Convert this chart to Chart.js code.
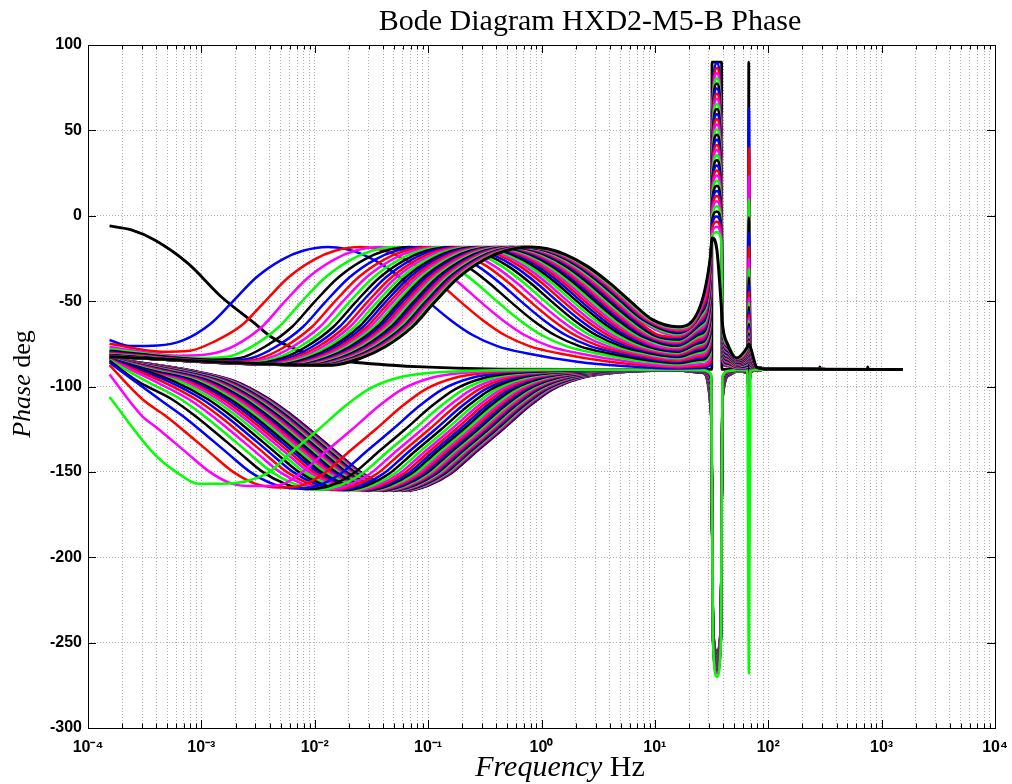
<!DOCTYPE html>
<html>
<head>
<meta charset="utf-8">
<script src="https://cdn.jsdelivr.net/npm/chart.js@4.4.1/dist/chart.umd.min.js"></script>
<style>
html,body{margin:0;padding:0;background:#ffffff;}
#wrap{width:1012px;height:784px;position:relative;}
</style>
</head>
<body>
<div id="wrap"><canvas id="c" width="1012" height="784"></canvas></div>
<script>
// ---------------- text ----------------
const titleText = 'Bode Diagram HXD2-M5-B Phase';
const xTitleItalic = 'Frequency';
const xTitleRoman = ' Hz';
const yTitleItalic = 'Phase';
const yTitleRoman = ' deg';

// ---------------- axes ----------------
const xMajorExponents = [-4, -3, -2, -1, 0, 1, 2, 3, 4];
const xMinorMultipliers = [2, 3, 4, 5, 6, 7, 8, 9];
const yTickValues = [100, 50, 0, -50, -100, -150, -200, -250, -300];

// ---------------- colours ----------------
const upperColors = ['#0000ff', '#ff0000', '#ff00ff', '#00ff00', '#000000'];
const lowerColors = ['#00ff00', '#ff00ff', '#ff0000', '#0000ff', '#000000'];

// frequency span of every trace (log10 Hz)
const startLogF = -3.81;
const endLogF = 3.187;

// ---------------- lone black trace (log10 Hz / deg) ----------------
const soloLogF = [-3.81, -3.618, -3.412, -3.118, -2.825, -2.53, -2.384, -1.983, -1.69, -1.101, -0.367, 0.5, 1.502, 1.504, 1.589, 1.591, 1.826, 1.828, 1.83, 2.45, 2.455, 2.46, 2.873, 2.878, 2.883, 3.187];
const soloDeg = [-6, -8.3, -14.2, -27.9, -47.4, -63, -71, -82.5, -85.5, -88.4, -89.8, -90, -90, 90, 90, -90, -90, 90, -90, -90, -88.5, -90, -90, -88.5, -90, -90];

// ---------------- upper family (phase-lead humps) ----------------
// centre of each hump, log10 Hz (read from the -50 deg crossings)
const upperCenterLog = [-1.884, -1.601, -1.425, -1.275, -1.160, -1.063, -0.984, -0.914, -0.852, -0.795, -0.742, -0.693, -0.649, -0.608, -0.569, -0.533, -0.499, -0.467, -0.437, -0.409, -0.383, -0.357, -0.332, -0.309, -0.286, -0.264, -0.243, -0.221, -0.201, -0.181, -0.168, -0.151, -0.133, -0.116, -0.098];
const upperStartDeg = [-72.8, -75, -76.8, -78, -79, -79.8, -80.4, -80.9, -81.3, -81.6, -81.9, -82.1, -82.2, -82.3, -82.4, -82.5, -82.5, -82.6, -82.6, -82.6, -82.6, -82.6, -82.6, -82.6, -82.6, -82.6, -82.6, -82.6, -82.6, -82.6, -82.6, -82.6, -82.6, -82.6, -82.6];
const upperMinDeg = [-76.3, -79.6, -82, -83.3, -84.3, -85, -85.5, -85.9, -86.2, -86.4, -86.6, -86.8, -86.9, -87, -87.1, -87.2, -87.2, -87.3, -87.3, -87.4, -87.4, -87.4, -87.5, -87.5, -87.5, -87.5, -87.5, -87.5, -87.5, -87.5, -87.5, -87.5, -87.5, -87.5, -87.5];
const upperMinOffset = -1.75;
// early part of the rise, per trace, at these offsets from the centre (decades)
const upperRampOffset = [-1.5, -1.28, -1.04];
const upperRamp = [
  [-76, -73, -63.5], [-79, -73.5, -64], [-81, -76, -65], [-82.6, -76.6, -65], [-83.3, -76.7, -65],
  [-83.5, -76.7, -65], [-83.5, -76.7, -65], [-83.5, -76.7, -65], [-83.5, -76.7, -65], [-83.5, -76.7, -65],
  [-83.5, -76.7, -65], [-83.5, -76.7, -65], [-83.5, -76.7, -65], [-83.5, -76.7, -65], [-83.5, -76.7, -65],
  [-83.5, -76.7, -65], [-83.5, -76.7, -65], [-83.5, -76.7, -65], [-83.5, -76.7, -65], [-83.5, -76.7, -65],
  [-83.5, -76.7, -65], [-83.5, -76.7, -65], [-83.5, -76.7, -65], [-83.5, -76.7, -65], [-83.5, -76.7, -65],
  [-83.5, -76.7, -65], [-83.5, -76.7, -65], [-83.5, -76.7, -65], [-83.5, -76.7, -65], [-83.5, -76.7, -65],
  [-83.5, -76.7, -65], [-83.5, -76.7, -65], [-83.5, -76.7, -65], [-83.5, -76.7, -65], [-83.5, -76.7, -65]
];
// rest of the hump profile: offset from centre (decades) / deg
const upperShapeOffset = [-0.85, -0.63, -0.4, -0.22, 0, 0.15, 0.3, 0.5, 0.7, 0.88, 1.08, 1.28, 1.5, 1.75, 2.2, 2.6, 3.0];
const upperShapeDeg = [-51, -36, -25.5, -20.5, -18.3, -19.3, -22.5, -29.5, -39.5, -50, -61, -70, -76.5, -80.5, -85.5, -88, -90];
// resonance region (log10 Hz) and per-trace values
const upperResLogF = [1.2, 1.40, 1.49, 1.505, 1.547, 1.585, 1.597, 1.64, 1.72, 1.815, 1.829, 1.843];
const upperResColumn = [0, 1, 2, 3, 4, 5, 6, 7, 8, 9, 10, 9];
const upperRes = [
  [-89.5, -89.2, -87.6, 62.9, 89.5, 59.9, -85.6, -88.2, -89.4, -89.3, 63],
  [-88.8, -88.2, -85.8, 60.7, 86.5, 57.7, -84.9, -87.9, -89.2, -88.9, 40],
  [-88, -87, -83.7, 58.4, 83.5, 55.4, -84.2, -87.4, -89, -88.5, 23],
  [-87, -85.5, -81, 56.3, 80.5, 53.3, -83.4, -86.9, -88.8, -88, 9.7],
  [-86.3, -84.4, -79, 54, 77.5, 51, -82.7, -86.5, -88.6, -87.7, -1],
  [-85.6, -83.4, -77.3, 51.7, 74.5, 48.7, -82.1, -86.1, -88.4, -87.3, -10],
  [-85, -82.5, -75.6, 49.4, 71.5, 46.4, -81.6, -85.8, -88.3, -87, -18],
  [-84.2, -81.3, -73.5, 47.2, 68.5, 44.2, -80.9, -85.4, -88.1, -86.6, -25],
  [-83.4, -80.1, -71.4, 45, 65.5, 42, -80.2, -84.9, -87.9, -86.2, -31],
  [-82.7, -79, -69.4, 42.7, 62.5, 39.7, -79.6, -84.6, -87.7, -85.9, -36],
  [-82, -78, -67.6, 40.4, 59.5, 37.4, -79, -84.2, -87.5, -85.5, -40.5],
  [-81.4, -77.1, -66, 38.1, 56.5, 35.1, -78.4, -83.9, -87.4, -85.2, -44.5],
  [-80.8, -76.2, -64.4, 35.8, 53.5, 32.8, -77.9, -83.5, -87.2, -84.9, -48],
  [-80.2, -75.3, -62.8, 33.5, 50.5, 30.5, -77.4, -83.2, -87.1, -84.6, -51],
  [-79.6, -74.4, -61.2, 31.2, 47.5, 28.2, -76.8, -82.9, -86.9, -84.3, -53.5],
  [-79, -73.5, -59.6, 28.9, 44.5, 25.9, -76.3, -82.6, -86.8, -84, -56],
  [-78.4, -72.6, -58, 26.6, 41.5, 23.6, -75.8, -82.2, -86.6, -83.7, -58],
  [-77.6, -71.4, -55.9, 24.3, 38.5, 21.3, -75.1, -81.8, -86.4, -83.3, -60],
  [-76.9, -70.3, -53.9, 22.1, 35.5, 19.1, -74.5, -81.4, -86.3, -83, -61.8],
  [-76.2, -69.3, -52.2, 19.8, 32.5, 16.8, -73.9, -81.1, -86.1, -82.6, -63.4],
  [-75.5, -68.2, -50.2, 17.5, 29.5, 14.5, -73.2, -80.7, -85.9, -82.3, -64.8],
  [-74.7, -67, -48.1, 15.3, 26.5, 12.3, -72.5, -80.2, -85.7, -81.9, -66],
  [-74, -66, -46.3, 13, 23.5, 10, -71.9, -79.9, -85.5, -81.5, -67.1],
  [-73.2, -64.8, -44.1, 10.8, 20.5, 7.8, -71.2, -79.4, -85.3, -81.1, -68.1],
  [-72.5, -63.7, -42.2, 8.5, 17.5, 5.5, -70.6, -79.1, -85.2, -80.8, -69],
  [-71.8, -62.7, -40.4, 6.3, 14.5, 3.3, -70, -78.7, -85, -80.4, -69.8],
  [-71, -61.5, -38.3, 4, 11.5, 1, -69.3, -78.2, -84.8, -80, -70.5],
  [-70.2, -60.3, -36.1, 1.8, 8.5, -1.2, -68.6, -77.8, -84.6, -79.6, -71.2],
  [-69.4, -59.1, -34, -0.4, 5.5, -3.4, -67.9, -77.4, -84.4, -79.2, -71.8],
  [-68.6, -57.9, -31.9, -2.7, 2.5, -5.7, -67.2, -76.9, -84.2, -78.8, -72.4],
  [-68, -57, -30.3, -5, -0.5, -8, -66.6, -76.6, -84, -78.5, -73],
  [-67.3, -56, -28.5, -7.2, -3.5, -10.2, -66, -76.2, -83.9, -78.2, -73.5],
  [-66.6, -54.9, -26.5, -9.5, -6.5, -12.5, -65.4, -75.9, -83.7, -77.8, -74],
  [-65.8, -53.7, -24.4, -11.7, -9.5, -14.7, -64.7, -75.4, -83.5, -77.4, -74.5],
  [-65, -53, -24, -13, -20, -52, -64, -75, -83.3, -77, -75]
];
const upperTailLogF = [1.9, 2.0, 3.187];
const upperTailDeg = [-88.8, -89.8, -90];

// ---------------- lower family (phase-lag dips) ----------------
const lowerCenterLog = [-2.823, -2.527, -2.320, -2.170, -2.060, -1.981, -1.910, -1.848, -1.793, -1.742, -1.695, -1.653, -1.614, -1.579, -1.546, -1.516, -1.489, -1.463, -1.439, -1.417, -1.397, -1.377, -1.359, -1.341, -1.325, -1.309, -1.294, -1.280, -1.265, -1.252, -1.240, -1.228, -1.218, -1.207, -1.198];
const lowerStartDeg = [-106.2, -93, -87.5, -86, -85, -84.6, -84.3, -84.1, -83.9, -83.8, -83.7, -83.7, -83.6, -83.6, -83.5, -83.5, -83.5, -83.5, -83.5, -83.5, -83.5, -83.5, -83.5, -83.5, -83.5, -83.5, -83.5, -83.5, -83.5, -83.5, -83.5, -83.5, -83.5, -83.5, -83.5];
const lowerMinDeg = [-157, -158.3, -159.2, -159.8, -160.2, -160.4, -160.5, -160.6, -160.7, -160.7, -160.8, -160.8, -160.8, -160.9, -160.9, -160.9, -160.9, -161, -161, -161, -161, -161, -161, -161, -161, -161, -161, -161, -161, -161, -161, -161, -161, -161, -161];
const lowerShapeOffset = [-1.9, -1.5, -1.2, -1.0, -0.85, -0.6, -0.4, -0.2, 0.2, 0.4, 0.6, 0.85, 1.1, 1.3, 1.55, 1.85, 2.3, 2.8];
const lowerShapeDeg = [-90.5, -97, -107.5, -117, -125, -139, -150, -157, -158, -151, -139.5, -125.5, -111, -101.5, -95, -92, -90.6, -90.2];
const lowerResLogF = [1.2, 1.42, 1.497, 1.512, 1.547, 1.583, 1.596, 1.66, 1.72, 1.815, 1.829, 1.843];
const lowerResColumn = [0, 1, 2, 3, 4, 5, 6, 7, 8, 9, 10, 9];
const lowerRes = [
  [-90.2, -90.5, -93, -248, -270, -248, -94, -90.8, -90.4, -90.5, -268],
  [-90.2, -90.5, -93.7, -248, -268, -248, -94.4, -90.9, -90.4, -90.5, -106],
  [-90.2, -90.6, -94.5, -247, -267.5, -247, -94.8, -91, -90.4, -90.6, -105.3],
  [-90.2, -90.6, -95.2, -247, -267, -247, -95.2, -91, -90.5, -90.6, -105],
  [-90.3, -90.7, -96, -247, -266.5, -247, -95.6, -91.1, -90.5, -90.7, -104.6],
  [-90.3, -90.7, -96.7, -246.5, -266, -246.5, -96, -91.2, -90.5, -90.7, -104.2],
  [-90.3, -90.8, -97.4, -246, -266, -246, -96.5, -91.2, -90.5, -90.8, -103.9],
  [-90.3, -90.8, -98.1, -246, -265.5, -246, -96.9, -91.3, -90.6, -90.8, -103.5],
  [-90.3, -90.9, -98.9, -245.5, -265, -245.5, -97.3, -91.4, -90.6, -90.9, -103.2],
  [-90.3, -90.9, -99.6, -245.5, -264.5, -245.5, -97.7, -91.5, -90.6, -90.9, -102.8],
  [-90.3, -90.9, -100.4, -245, -264.5, -245, -98.1, -91.5, -90.6, -90.9, -102.5],
  [-90.4, -91, -101.1, -245, -264, -245, -98.5, -91.6, -90.7, -91, -102.1],
  [-90.4, -91, -101.8, -244.5, -263.5, -244.5, -98.9, -91.7, -90.7, -91, -101.8],
  [-90.4, -91.1, -102.6, -244, -263, -244, -99.4, -91.8, -90.7, -91.1, -101.4],
  [-90.4, -91.1, -103.3, -244, -263, -244, -99.8, -91.8, -90.7, -91.1, -101.1],
  [-90.4, -91.2, -104, -243.5, -262.5, -243.5, -100.2, -91.9, -90.8, -91.2, -100.7],
  [-90.4, -91.2, -104.8, -243.5, -262, -243.5, -100.6, -92, -90.8, -91.2, -100.4],
  [-90.5, -91.3, -105.5, -243, -261.5, -243, -101, -92.1, -90.8, -91.3, -100],
  [-90.5, -91.3, -106.2, -242.5, -261.5, -242.5, -101.4, -92.1, -90.8, -91.3, -99.6],
  [-90.5, -91.3, -107, -242.5, -261, -242.5, -101.8, -92.2, -90.8, -91.3, -99.3],
  [-90.5, -91.4, -107.7, -242, -260.5, -242, -102.2, -92.3, -90.9, -91.4, -98.9],
  [-90.5, -91.4, -108.4, -242, -260, -242, -102.6, -92.3, -90.9, -91.4, -98.6],
  [-90.5, -91.5, -109.2, -241.5, -260, -241.5, -103.1, -92.4, -90.9, -91.5, -98.2],
  [-90.5, -91.5, -109.9, -241, -259.5, -241, -103.5, -92.5, -90.9, -91.5, -97.9],
  [-90.6, -91.6, -110.6, -241, -259, -241, -103.9, -92.6, -91, -91.6, -97.5],
  [-90.6, -91.6, -111.4, -240.5, -258.5, -240.5, -104.3, -92.6, -91, -91.6, -97.2],
  [-90.6, -91.6, -112.1, -240.5, -258.5, -240.5, -104.7, -92.7, -91, -91.6, -96.8],
  [-90.6, -91.7, -112.9, -240, -258, -240, -105.1, -92.8, -91, -91.7, -96.5],
  [-90.6, -91.7, -113.6, -240, -257.5, -240, -105.5, -92.9, -91.1, -91.7, -96.1],
  [-90.6, -91.8, -114.3, -239.5, -257, -239.5, -105.9, -92.9, -91.1, -91.8, -95.8],
  [-90.6, -91.8, -115.1, -239, -257, -239, -106.4, -93, -91.1, -91.8, -95.4],
  [-90.7, -91.9, -115.8, -239, -256.5, -239, -106.8, -93.1, -91.1, -91.9, -95.1],
  [-90.7, -91.9, -116.5, -238.5, -256, -238.5, -107.2, -93.2, -91.2, -91.9, -94.7],
  [-90.7, -92, -117.3, -238.5, -255.5, -238.5, -107.6, -93.2, -91.2, -92, -94.4],
  [-90.7, -92, -118, -238, -255, -238, -108, -93.3, -91.2, -92, -94]
];
const lowerTailLogF = [1.9, 2.0, 3.187];
const lowerTailDeg = [-90.3, -90.1, -90];

// ---------------- build tables for Chart.js ----------------
const hz = lg => Math.pow(10, lg);
const byX = (a, b) => a.x - b.x;

function upperPoints(i) {
  const c = upperCenterLog[i];
  const pts = [{x: hz(startLogF), y: upperStartDeg[i]}, {x: hz(c + upperMinOffset), y: upperMinDeg[i]}];
  upperRampOffset.forEach((d, k) => pts.push({x: hz(c + d), y: upperRamp[i][k]}));
  upperShapeOffset.forEach((d, k) => { if (c + d <= 1.05) pts.push({x: hz(c + d), y: upperShapeDeg[k]}); });
  upperResLogF.forEach((lg, j) => pts.push({x: hz(lg), y: upperRes[i][upperResColumn[j]]}));
  upperTailLogF.forEach((lg, j) => pts.push({x: hz(lg), y: upperTailDeg[j]}));
  return pts.sort(byX);
}
function lowerPoints(i) {
  const c = lowerCenterLog[i];
  const pts = [{x: hz(startLogF), y: lowerStartDeg[i]}, {x: hz(c), y: lowerMinDeg[i]}];
  lowerShapeOffset.forEach((d, k) => {
    const lg = c + d;
    if (lg > startLogF + 0.2 && lg <= 1.12 && lowerShapeDeg[k] >= lowerMinDeg[i]) pts.push({x: hz(lg), y: lowerShapeDeg[k]});
  });
  lowerResLogF.forEach((lg, j) => pts.push({x: hz(lg), y: lowerRes[i][lowerResColumn[j]]}));
  lowerTailLogF.forEach((lg, j) => pts.push({x: hz(lg), y: lowerTailDeg[j]}));
  return pts.sort(byX);
}

const lineBase = {fill: false, pointRadius: 0, pointHoverRadius: 0, borderWidth: 2.5, cubicInterpolationMode: 'monotone'};
const datasets = [];
// the first dataset is painted on top
for (let i = upperCenterLog.length - 1; i >= 0; i--) {
  datasets.push(Object.assign({}, lineBase, {label: 'upper ' + (i + 1), data: upperPoints(i), borderColor: upperColors[i % 5], borderWidth: i === upperCenterLog.length - 1 ? 3 : 2.5}));
}
for (let i = 0; i < lowerCenterLog.length; i++) {
  datasets.push(Object.assign({}, lineBase, {label: 'lower ' + (i + 1), data: lowerPoints(i), borderColor: lowerColors[i % 5]}));
}
datasets.push(Object.assign({}, lineBase, {label: 'solo', data: soloLogF.map((lg, k) => ({x: hz(lg), y: soloDeg[k]})), borderColor: '#000000', borderWidth: 2.8}));

const xTickList = [];
xMajorExponents.forEach(e => {
  xTickList.push({value: hz(e), major: true});
  if (e < 4) xMinorMultipliers.forEach(m => xTickList.push({value: m * hz(e), major: false}));
});
const supMap = {'-': '\u207B', '0': '\u2070', '1': '\u00B9', '2': '\u00B2', '3': '\u00B3', '4': '\u2074'};
const supText = n => String(n).split('').map(ch => supMap[ch]).join('');

const decor = {
  id: 'decor',
  afterDraw(chart) {
    const {ctx, chartArea: a, scales: {x, y}} = chart;
    ctx.save();
    ctx.strokeStyle = '#000000';
    ctx.lineWidth = 1;
    ctx.beginPath();
    x.ticks.forEach(t => {
      const px = Math.round(x.getPixelForValue(t.value)) + 0.5;
      const len = t.major ? 8 : 4.5;
      ctx.moveTo(px, a.bottom); ctx.lineTo(px, a.bottom - len);
      ctx.moveTo(px, a.top); ctx.lineTo(px, a.top + len);
    });
    y.ticks.forEach(t => {
      const py = Math.round(y.getPixelForValue(t.value)) + 0.5;
      ctx.moveTo(a.left, py); ctx.lineTo(a.left + 8, py);
      ctx.moveTo(a.right, py); ctx.lineTo(a.right - 8, py);
    });
    ctx.stroke();
    ctx.strokeRect(Math.round(a.left) + 0.5, Math.round(a.top) + 0.5, Math.round(a.right - a.left), Math.round(a.bottom - a.top));

    ctx.fillStyle = '#000000';
    ctx.textBaseline = 'alphabetic';
    ctx.textAlign = 'left';
    // title
    ctx.font = '30px "Liberation Serif"';
    const tw = ctx.measureText(titleText).width;
    ctx.fillText(titleText, 590 - tw / 2, 30);
    // x title
    ctx.font = 'italic 30px "Liberation Serif"';
    const w1 = ctx.measureText(xTitleItalic).width;
    ctx.font = '30px "Liberation Serif"';
    const w2 = ctx.measureText(xTitleRoman).width;
    let sx = 560 - (w1 + w2) / 2;
    ctx.font = 'italic 30px "Liberation Serif"';
    ctx.fillText(xTitleItalic, sx, 776);
    ctx.font = '30px "Liberation Serif"';
    ctx.fillText(xTitleRoman, sx + w1, 776);
    // y title
    ctx.translate(30, 384);
    ctx.rotate(-Math.PI / 2);
    ctx.font = 'italic 26px "Liberation Serif"';
    const v1 = ctx.measureText(yTitleItalic).width;
    ctx.font = '26px "Liberation Serif"';
    const v2 = ctx.measureText(yTitleRoman).width;
    sx = -(v1 + v2) / 2;
    ctx.font = 'italic 26px "Liberation Serif"';
    ctx.fillText(yTitleItalic, sx, 0);
    ctx.font = '26px "Liberation Serif"';
    ctx.fillText(yTitleRoman, sx + v1, 0);
    ctx.restore();
  }
};

new Chart(document.getElementById('c'), {
  type: 'line',
  data: {datasets},
  plugins: [decor],
  options: {
    responsive: false,
    devicePixelRatio: 1,
    animation: false,
    events: [],
    layout: {padding: {top: 45, right: 17, left: 0, bottom: 0}},
    plugins: {legend: {display: false}, title: {display: false}, tooltip: {enabled: false}},
    scales: {
      x: {
        type: 'logarithmic',
        min: 1e-4,
        max: 1e4,
        afterBuildTicks: s => { s.ticks = xTickList.map(t => ({value: t.value, major: t.major})); },
        afterFit: s => { s.height = 56; s.paddingLeft = 0; s.paddingRight = 0; },
        ticks: {
          autoSkip: false, maxRotation: 0, minRotation: 0, padding: 10,
          color: '#000000',
          font: {family: 'Liberation Sans', weight: 'bold', size: 16},
          callback: v => {
            const e = Math.round(Math.log10(v));
            return Math.abs(v / hz(e) - 1) < 1e-6 ? '10' + supText(e) : '';
          }
        },
        grid: {color: '#b0b0b0', lineWidth: 1, drawTicks: false},
        border: {display: false, dash: [1, 2]}
      },
      y: {
        type: 'linear',
        min: -300,
        max: 100,
        afterFit: s => { s.width = 88; s.paddingTop = 0; s.paddingBottom = 0; },
        afterBuildTicks: s => { s.ticks = yTickValues.map(v => ({value: v})); },
        ticks: {
          padding: 6,
          color: '#000000',
          font: {family: 'Liberation Sans', weight: 'bold', size: 16}
        },
        grid: {color: '#b0b0b0', lineWidth: 1, drawTicks: false},
        border: {display: false, dash: [1, 2]}
      }
    }
  }
});
</script>
</body>
</html>
